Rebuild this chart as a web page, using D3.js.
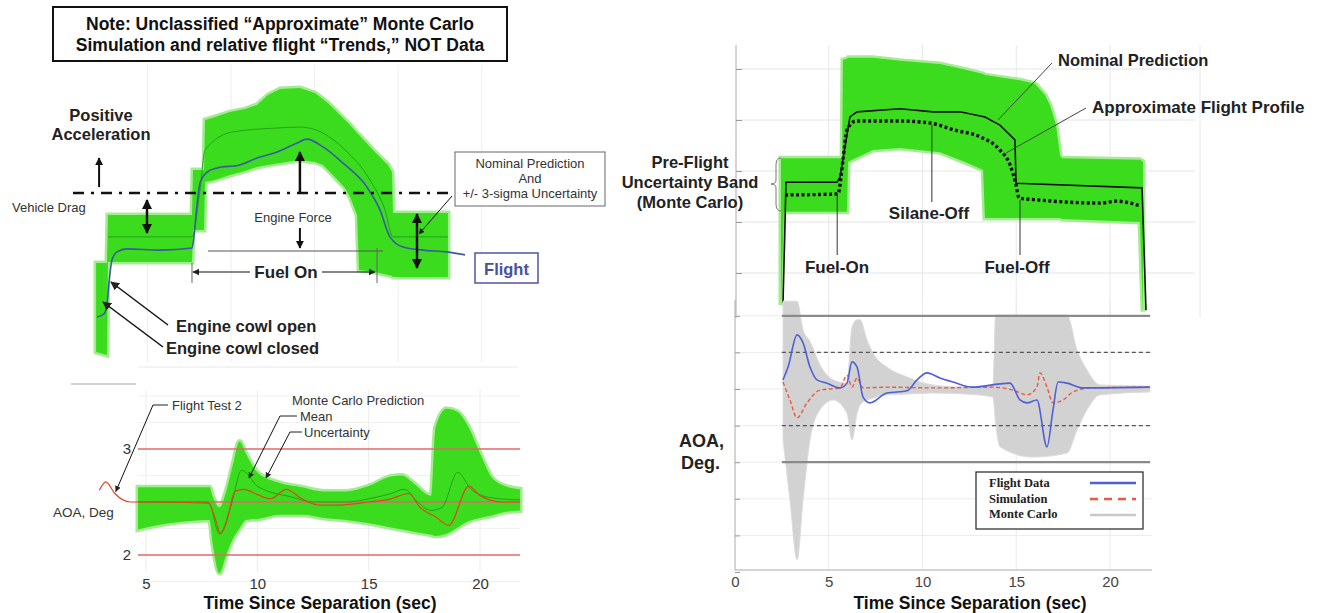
<!DOCTYPE html>
<html><head><meta charset="utf-8">
<script src="https://cdn.jsdelivr.net/npm/d3@7"></script>
<style>
body{margin:0;background:#fff}
svg{display:block}
text{font-family:"Liberation Sans",Arial,sans-serif}
</style></head>
<body><svg id="c" width="1322" height="613"></svg>
<script>
// ---------------- DATA ----------------
// Top-left: thrust/acceleration trend (relative units)
const tlTime  = [1.92,2.57,2.63,7.66,7.72,8.38,8.44,9.04,9.94,10.83,11.55,12.21,12.93,14.12,15.02,15.5,15.92,16.82,17.12,17.54,17.66,18.61,19.39,19.63,19.69,22.98];
const tlUpper = [3.40,3.40,5.0,5.0,6.5,6.5,8.17,8.27,8.43,8.53,8.67,9.0,9.2,9.23,9.07,8.87,8.67,8.17,8.0,7.73,7.67,7.1,6.67,6.43,5.07,5.07];
const tlLower = [0.43,0.33,3.43,3.43,4.5,4.5,6.1,6.17,6.33,6.47,6.6,6.67,6.73,6.83,6.77,6.67,6.43,5.9,5.6,5.0,3.17,3.1,3.0,2.97,2.93,2.93];
const tlFlightT = [1.98,2.39,2.57,2.69,2.87,3.17,3.77,5.75,7.66,7.78,7.96,8.14,8.56,9.16,10.53,11.55,12.75,13.95,14.54,15.5,16.7,18.13,18.91,19.51,20.29,21.49,22.92,24.0];
const tlFlightV = [1.6,1.7,2.0,2.73,3.5,3.77,3.87,3.83,3.9,4.3,5.33,6.07,6.43,6.57,6.67,6.9,7.1,7.4,7.53,7.27,6.73,5.93,5.17,4.27,3.93,3.83,3.77,3.67];
const tlMeanT = [2.63,7.66,8.14,8.44,10.11,12.75,14.12,15.5,16.82,18.31,19.21,19.69,22.98];
const tlMeanV = [4.27,4.27,5.83,7.17,7.77,7.9,7.93,7.73,7.17,6.17,5.17,4.27,4.27];
const tlDrag = 5.73;

// Bottom-left: AOA (deg) vs time since separation (s)
const blT     = [4.64,5.5,7.0,7.85,8.0,8.3,8.6,8.9,9.2,9.5,10,11,12,13,14,15,16,16.5,17,17.8,18.0,18.5,19,19.5,20,20.5,21,21.8];
const blUpper = [2.64,2.64,2.64,2.64,2.55,2.45,2.6,2.85,3.07,2.95,2.78,2.68,2.64,2.6,2.6,2.65,2.74,2.75,2.68,2.56,3.2,3.38,3.35,3.2,2.96,2.74,2.66,2.62];
const blLower = [2.24,2.28,2.32,2.33,2.1,1.83,2.0,2.15,2.25,2.33,2.34,2.38,2.38,2.35,2.33,2.3,2.26,2.24,2.22,2.19,2.18,2.2,2.26,2.32,2.35,2.37,2.4,2.42];
const blMeanT = [4.64,7.8,8.3,8.8,9.3,10,10.5,11.5,12.5,14,15,16,16.6,17.2,17.8,18.3,19,19.6,20.5,21.8];
const blMeanV = [2.5,2.5,2.2,2.45,2.8,2.65,2.6,2.55,2.5,2.5,2.53,2.58,2.62,2.5,2.42,2.45,2.78,2.62,2.54,2.52];
const blFlightT = [2.9,3.2,3.6,4.3,5,7.8,8.1,8.35,8.6,9.0,9.4,10,10.6,11.3,12,12.8,13.5,15,16,16.8,17.3,18,18.6,19.5,20,21,21.8];
const blFlightV = [2.61,2.69,2.58,2.5,2.5,2.49,2.35,2.2,2.3,2.6,2.62,2.57,2.53,2.62,2.53,2.47,2.47,2.5,2.53,2.58,2.45,2.36,2.28,2.65,2.56,2.5,2.5];
const blRefLines = [2, 2.5, 3];
const blTicksX = [5,10,15,20];
const blTicksY = [2,3];

// Top-right: pre-flight uncertainty band (relative units)
const rtT     = [2.45,2.61,5.71,5.76,5.97,6.03,7.36,8.8,10.93,12.37,13.23,13.33,15.2,16.0,16.53,16.8,17.12,17.33,17.44,21.6,21.76];
const rtUpper = [3.25,3.25,3.25,5.18,5.2,5.22,5.22,5.16,5.1,4.98,4.9,4.88,4.78,4.71,4.49,4.29,3.9,3.31,3.25,3.22,3.18];
const rtLower = [0.37,2.2,2.2,2.2,2.2,3.18,3.41,3.45,3.37,3.16,3.02,2.08,2.08,2.08,2.08,2.08,2.08,2.08,2.06,2.0,0.24];
const rtNomT = [2.56,2.72,5.44,5.6,6.13,6.51,8.8,10.56,12.0,13.33,14.13,14.93,14.99,21.71,21.92];
const rtNomV = [0.41,2.78,2.78,2.88,4.06,4.16,4.22,4.16,4.16,4.06,3.9,3.61,2.76,2.67,0.27];
const rtFlightT = [2.67,5.49,5.76,5.97,6.45,8.8,10.4,11.73,13.07,14.13,14.67,14.99,15.15,16.27,17.71,19.47,20.37,21.07,21.65];
const rtFlightV = [2.53,2.55,3.22,3.8,3.98,3.98,3.94,3.8,3.67,3.41,3.12,2.73,2.47,2.43,2.39,2.37,2.41,2.37,2.31];
const rtGridY = [1,2,3,4,5];

// Bottom-right: AOA flight data / simulation / Monte Carlo
const rbFlightT = [2.56,2.83,3.31,3.63,4.0,4.37,4.91,5.6,5.97,6.24,6.51,6.83,7.2,8.1,9.17,9.71,10.24,10.93,11.63,12.69,14.13,14.67,15.2,15.57,16.1,16.64,16.96,17.23,17.71,18.56,22.13];
const rbFlightV = [0.25,0.6,1.48,1.26,0.6,0.25,0.16,0.03,0.16,0.74,0.6,-0.22,-0.38,-0.11,-0.05,0.25,0.44,0.3,0.19,0.05,0.14,0.16,-0.3,-0.38,-0.3,-1.58,-0.57,0.19,0.16,0.03,0.05];
const rbSimT = [2.56,2.93,3.31,3.84,4.53,5.6,5.97,6.24,6.51,6.83,8.1,10.56,13.76,14.83,15.57,16.1,16.27,16.64,16.96,17.49,18.03,18.93,22.13];
const rbSimV = [0.19,-0.3,-0.79,-0.38,-0.03,0.03,0.38,0.05,0.3,0.03,0.05,0.03,0.05,-0.03,-0.16,0.05,0.44,0.05,-0.38,-0.3,-0.08,0.03,0.05];
const rbMcT = [2.56,2.93,3.31,3.63,4.0,4.53,5.23,5.97,6.24,6.51,6.67,7.04,7.36,8.1,9.17,10.56,12.37,13.76,13.9,14.13,15.89,17.71,18.24,18.77,19.47,22.13];
const rbMcUpper = [2.4,2.4,2.4,1.61,1.3,0.66,0.25,0.16,1.69,1.89,1.89,1.34,0.98,0.6,0.33,0.11,0.05,0.11,2.02,2.02,2.02,2.02,1.07,0.52,0.11,0.08];
const rbMcLower = [-1.39,-3.03,-4.67,-3.03,-1.39,-0.57,-0.3,-0.66,-1.39,-0.66,-0.44,-0.3,-0.25,-0.16,-0.14,-0.11,-0.14,-0.22,-0.93,-1.58,-1.86,-1.75,-1.12,-0.57,-0.16,-0.08];
const rbSolidLines = [2,-2];
const rbDashedLines = [1,-1];
const rbTicksX = [0,5,10,15,20];
const rbGridY = [-4,-3,-2,-1,0,1,2];
const legendItems = ["Flight Data","Simulation","Monte Carlo"];

// ---------------- SETUP ----------------
const svg = d3.select("#c");
const SANS='"Liberation Sans",Arial,sans-serif';
const zip = (a,b)=>a.map((v,i)=>[v,b[i]]);
const defs = svg.append("defs");
function marker(id,color,size){
  defs.append("marker").attr("id",id).attr("viewBox","0 0 10 10").attr("refX",9).attr("refY",5)
    .attr("markerWidth",size).attr("markerHeight",size).attr("orient","auto-start-reverse")
    .append("path").attr("d","M0,0 L10,5 L0,10 Z").attr("fill",color);
}
marker("ah","#111",4);
marker("ahs","#222",6);
const GREEN="#3bdc1e", GREEN_EDGE="#a6eb93", DARKG="#22a21a";

function arrow(g,x1,y1,x2,y2,w,both,mk){
  const l=g.append("line").attr("x1",x1).attr("y1",y1).attr("x2",x2).attr("y2",y2)
    .attr("stroke","#111").attr("stroke-width",w).attr("marker-end",`url(#${mk||"ah"})`);
  if(both) l.attr("marker-start",`url(#${mk||"ah"})`);
  return l;
}
function txt(g,x,y,s,size,weight,anchor,fill,family){
  return g.append("text").attr("x",x).attr("y",y).text(s).attr("font-size",size)
    .attr("font-weight",weight||"normal").attr("text-anchor",anchor||"start").attr("fill",fill||"#111")
    .style("font-family",family||null);
}
function band(g,data,x,y,curve){
  const a=d3.area().x(d=>x(d.t)).y0(d=>y(d.l)).y1(d=>y(d.u));
  if(curve) a.curve(curve);
  g.append("path").datum(data).attr("d",a).attr("fill","none").attr("stroke",GREEN_EDGE).attr("stroke-width",5);
  g.append("path").datum(data).attr("d",a).attr("fill",GREEN);
}

// ---------------- TOP-LEFT ----------------
const xTL = d3.scaleLinear().domain([0,24]).range([64,465]);
const yTL = d3.scaleLinear().domain([0,10]).range([365,65]);
const gTL = svg.append("g");
gTL.selectAll("line.vg").data([5,10,15,20,25]).join("line")
  .attr("x1",d=>xTL(d)).attr("x2",d=>xTL(d)).attr("y1",65).attr("y2",362)
  .attr("stroke","#eeeeee").attr("stroke-width",1);
gTL.append("line").attr("x1",138).attr("x2",518).attr("y1",367).attr("y2",367).attr("stroke","#e8e8e8");
svg.append("line").attr("x1",71).attr("x2",136).attr("y1",384).attr("y2",384).attr("stroke","#aaa").attr("stroke-width",1.2);

band(gTL, tlTime.map((t,i)=>({t,u:tlUpper[i],l:tlLower[i]})), xTL, yTL);
gTL.append("path").datum(zip(tlMeanT,tlMeanV))
  .attr("d",d3.line().x(d=>xTL(d[0])).y(d=>yTL(d[1])).curve(d3.curveMonotoneX))
  .attr("fill","none").attr("stroke",DARKG).attr("stroke-width",1);
gTL.append("path").datum(zip(tlFlightT,tlFlightV))
  .attr("d",d3.line().x(d=>xTL(d[0])).y(d=>yTL(d[1])).curve(d3.curveMonotoneX))
  .attr("fill","none").attr("stroke","#3d58a6").attr("stroke-width",1.6);

gTL.append("line").attr("x1",xTL(0.54)).attr("x2",xTL(23.1)).attr("y1",yTL(tlDrag)).attr("y2",yTL(tlDrag))
  .attr("stroke","#111").attr("stroke-width",2.5).attr("stroke-dasharray","11,7,3,7");

gTL.append("rect").attr("x",53).attr("y",7).attr("width",454).attr("height",54).attr("fill","#fff").attr("stroke","#111").attr("stroke-width",2);
txt(gTL,280,30,"Note: Unclassified “Approximate” Monte Carlo",17.5,"bold","middle");
txt(gTL,280,51,"Simulation and relative flight “Trends,” NOT Data",17.5,"bold","middle");
txt(gTL,101,121,"Positive",16.5,"bold","middle","#222");
txt(gTL,101,140,"Acceleration",16.5,"bold","middle","#222");
arrow(gTL,xTL(2.1),yTL(tlDrag)-6,xTL(2.1),158,2);
txt(gTL,12,212,"Vehicle Drag",13,"normal","start","#333");
arrow(gTL,147,200,147,233,2.5,true);
arrow(gTL,417,214,417,268,2.5,true);
arrow(gTL,xTL(14.12),yTL(tlDrag),xTL(14.12),152,2.5);
txt(gTL,293,222,"Engine Force",13,"normal","middle","#333");
arrow(gTL,xTL(14.12),228,xTL(14.12),248,2);
gTL.append("line").attr("x1",208).attr("x2",383).attr("y1",251).attr("y2",251).attr("stroke","#555").attr("stroke-width",1);
gTL.append("line").attr("x1",xTL(7.66)).attr("x2",xTL(7.66)).attr("y1",263).attr("y2",283).attr("stroke","#666");
gTL.append("line").attr("x1",377).attr("x2",377).attr("y1",248).attr("y2",283).attr("stroke","#666");
arrow(gTL,250,272,xTL(7.66)+1,272,1.2,false,"ahs");
arrow(gTL,322,272,375,272,1.2,false,"ahs");
txt(gTL,286,278,"Fuel On",17,"bold","middle","#222");
arrow(gTL,168,325,111,282,1.5,false,"ahs");
arrow(gTL,163,347,103,302,1.5,false,"ahs");
txt(gTL,176,332,"Engine cowl open",16.5,"bold","start","#222");
txt(gTL,166,354,"Engine cowl closed",16.5,"bold","start","#222");
gTL.append("rect").attr("x",455).attr("y",152).attr("width",150).attr("height",54).attr("fill","#fff").attr("stroke","#666").attr("stroke-width",1);
txt(gTL,530,168,"Nominal Prediction",13,"normal","middle","#333");
txt(gTL,530,183,"And",13,"normal","middle","#333");
txt(gTL,530,198,"+/- 3-sigma Uncertainty",13,"normal","middle","#333");
arrow(gTL,452,196,419,234,1,false,"ahs");
gTL.append("rect").attr("x",475).attr("y",253).attr("width",63).attr("height",30).attr("fill","#fff").attr("stroke","#5b5fa8").attr("stroke-width",1.6);
txt(gTL,506.5,275,"Flight",16.5,"bold","middle","#4a50a0");

// ---------------- BOTTOM-LEFT ----------------
const xBL = d3.scaleLinear().domain([5,20]).range([146,480]);
const yBL = d3.scaleLinear().domain([2,3]).range([555,449]);
const gBL = svg.append("g");
gBL.selectAll("line.vg").data(blTicksX).join("line")
  .attr("x1",d=>xBL(d)).attr("x2",d=>xBL(d)).attr("y1",390).attr("y2",572).attr("stroke","#ececec");
gBL.selectAll("line.hg").data([2.25,2.75,3.25,3.5,1.75]).join("line")
  .attr("x1",xBL(4.64)).attr("x2",xBL(21.8)).attr("y1",d=>yBL(d)).attr("y2",d=>yBL(d)).attr("stroke","#f0f0f0");
band(gBL, blT.map((t,i)=>({t,u:blUpper[i],l:blLower[i]})), xBL, yBL, d3.curveMonotoneX);
gBL.selectAll("line.ref").data(blRefLines).join("line")
  .attr("x1",xBL(4.64)).attr("x2",xBL(21.8)).attr("y1",d=>yBL(d)).attr("y2",d=>yBL(d))
  .attr("stroke","#e06868").attr("stroke-width",1.6);
gBL.append("path").datum(zip(blMeanT,blMeanV))
  .attr("d",d3.line().x(d=>xBL(d[0])).y(d=>yBL(d[1])).curve(d3.curveMonotoneX))
  .attr("fill","none").attr("stroke",DARKG).attr("stroke-width",1);
gBL.append("path").datum(zip(blFlightT,blFlightV))
  .attr("d",d3.line().x(d=>xBL(d[0])).y(d=>yBL(d[1])).curve(d3.curveMonotoneX))
  .attr("fill","none").attr("stroke","#e0441f").attr("stroke-width",1.2);
const axBL = gBL.append("g").attr("transform","translate(0,574)")
  .call(d3.axisBottom(xBL).tickValues(blTicksX).tickSize(0).tickPadding(4));
axBL.select(".domain").remove();
axBL.selectAll("text").attr("font-size",15).attr("fill","#333").style("font-family",SANS);
const ayBL = gBL.append("g").attr("transform","translate(131,0)")
  .call(d3.axisLeft(yBL).tickValues(blTicksY).tickFormat(d3.format("d")).tickSize(0).tickPadding(0));
ayBL.select(".domain").remove();
ayBL.selectAll("text").attr("font-size",15).attr("fill","#333").style("font-family",SANS);
txt(gBL,320,609,"Time Since Separation (sec)",17.5,"bold","middle","#111");
txt(gBL,53,517,"AOA, Deg",13.5,"normal","start","#333");
txt(gBL,172,410,"Flight Test 2",13,"normal","start","#333");
txt(gBL,292,405,"Monte Carlo Prediction",13,"normal","start","#333");
txt(gBL,300,421,"Mean",13,"normal","start","#333");
txt(gBL,304,437,"Uncertainty",13,"normal","start","#333");
gBL.append("polyline").attr("points","168,405 153,405").attr("stroke","#222").attr("fill","none");
arrow(gBL,153,405,xBL(3.6)+1,yBL(2.58)-2,1,false,"ahs");
gBL.append("polyline").attr("points","297,416 280,416").attr("stroke","#222").attr("fill","none");
arrow(gBL,280,416,249,478,1,false,"ahs");
gBL.append("polyline").attr("points","302,432 290,432").attr("stroke","#222").attr("fill","none");
arrow(gBL,290,432,266,478,1,false,"ahs");

// ---------------- TOP-RIGHT ----------------
const xR = d3.scaleLinear().domain([0,20]).range([735,1110]);
const yRT = d3.scaleLinear().domain([0,5]).range([324,69]);
const gRT = svg.append("g");
gRT.selectAll("line.hg").data(rtGridY).join("line")
  .attr("x1",736).attr("x2",1195).attr("y1",d=>yRT(d)).attr("y2",d=>yRT(d)).attr("stroke","#e4e4e4");
gRT.selectAll("line.vg").data([5,10,15,20,24.8]).join("line")
  .attr("x1",d=>xR(d)).attr("x2",d=>xR(d)).attr("y1",45).attr("y2",318).attr("stroke","#e8e8e8");
gRT.append("g").attr("transform","translate(736,0)")
  .call(d3.axisLeft(yRT).tickValues(rtGridY).tickFormat("").tickSizeInner(-6).tickSizeOuter(0))
  .call(g=>g.select(".domain").attr("d","M0,45V318").attr("stroke","#aaa"))
  .call(g=>g.selectAll(".tick line").attr("stroke","#999"));
band(gRT, rtT.map((t,i)=>({t,u:rtUpper[i],l:rtLower[i]})), xR, yRT);
gRT.append("path").datum(zip(rtNomT,rtNomV))
  .attr("d",d3.line().x(d=>xR(d[0])).y(d=>yRT(d[1])))
  .attr("fill","none").attr("stroke","#111").attr("stroke-width",1.6);
gRT.append("path").datum(zip(rtFlightT,rtFlightV))
  .attr("d",d3.line().x(d=>xR(d[0])).y(d=>yRT(d[1])).curve(d3.curveMonotoneX))
  .attr("fill","none").attr("stroke","#111").attr("stroke-width",3.4).attr("stroke-dasharray","3,2.5");
txt(gRT,1058,66,"Nominal Prediction",16.5,"bold","start","#222");
gRT.append("line").attr("x1",1052).attr("y1",63).attr("x2",998).attr("y2",120).attr("stroke","#444");
txt(gRT,1092,113,"Approximate Flight Profile",17,"bold","start","#222");
gRT.append("line").attr("x1",1086).attr("y1",108).attr("x2",1006).attr("y2",153).attr("stroke","#444");
txt(gRT,929,219,"Silane-Off",17,"bold","middle","#222");
gRT.append("line").attr("x1",xR(10.5)).attr("x2",xR(10.5)).attr("y1",125).attr("y2",202).attr("stroke","#333");
txt(gRT,837,273,"Fuel-On",17,"bold","middle","#222");
gRT.append("line").attr("x1",xR(5.45)).attr("x2",xR(5.45)).attr("y1",194).attr("y2",255).attr("stroke","#333");
txt(gRT,1017,273,"Fuel-Off",17,"bold","middle","#222");
gRT.append("line").attr("x1",xR(15.2)).attr("x2",xR(15.2)).attr("y1",200).attr("y2",255).attr("stroke","#333");
txt(gRT,690,168,"Pre-Flight",16.5,"bold","middle","#222");
txt(gRT,690,188,"Uncertainty Band",16.5,"bold","middle","#222");
txt(gRT,690,208,"(Monte Carlo)",16.5,"bold","middle","#222");
gRT.append("path").attr("d","M781,158 Q776,158 776,165 L776,180 Q776,184 771,184 Q776,184 776,188 L776,204 Q776,211 781,211")
  .attr("fill","none").attr("stroke","#777").attr("stroke-width",1);

// ---------------- BOTTOM-RIGHT ----------------
const yRB = d3.scaleLinear().domain([-5,2.5]).range([572,297.5]);
const gRB = svg.append("g");
gRB.selectAll("line.hg").data(rbGridY).join("line")
  .attr("x1",735).attr("x2",1152).attr("y1",d=>yRB(d)).attr("y2",d=>yRB(d)).attr("stroke","#ebebeb");
gRB.selectAll("line.vg").data(rbTicksX.slice(1)).join("line")
  .attr("x1",d=>xR(d)).attr("x2",d=>xR(d)).attr("y1",300).attr("y2",570).attr("stroke","#ebebeb");
const rbEnv = rbMcT.map((t,i)=>({t,u:rbMcUpper[i],l:rbMcLower[i]}));
gRB.append("path").datum(rbEnv)
  .attr("d",d3.area().x(d=>xR(d.t)).y0(d=>yRB(d.l)).y1(d=>yRB(d.u)).curve(d3.curveMonotoneX))
  .attr("fill","#d2d2d2").attr("stroke","#dcdcdc").attr("stroke-width",1);
gRB.selectAll("line.sol").data(rbSolidLines).join("line")
  .attr("x1",xR(2.5)).attr("x2",1150).attr("y1",d=>yRB(d)).attr("y2",d=>yRB(d))
  .attr("stroke","#8a8a8a").attr("stroke-width",2.2);
gRB.selectAll("line.dsh").data(rbDashedLines).join("line")
  .attr("x1",xR(2.5)).attr("x2",1150).attr("y1",d=>yRB(d)).attr("y2",d=>yRB(d))
  .attr("stroke","#555").attr("stroke-width",1.3).attr("stroke-dasharray","4,3");
gRB.append("path").datum(zip(rbSimT,rbSimV))
  .attr("d",d3.line().x(d=>xR(d[0])).y(d=>yRB(d[1])).curve(d3.curveMonotoneX))
  .attr("fill","none").attr("stroke","#ec5a3a").attr("stroke-width",1.4).attr("stroke-dasharray","4,2.5");
gRB.append("path").datum(zip(rbFlightT,rbFlightV))
  .attr("d",d3.line().x(d=>xR(d[0])).y(d=>yRB(d[1])).curve(d3.curveMonotoneX))
  .attr("fill","none").attr("stroke","#4e60d6").attr("stroke-width",1.6);
gRB.append("g").attr("transform","translate(735,0)")
  .call(d3.axisLeft(yRB).tickValues(rbGridY.concat([-5])).tickFormat("").tickSizeInner(-5).tickSizeOuter(0))
  .call(g=>g.select(".domain").attr("d","M0,300V570").attr("stroke","#aaa"))
  .call(g=>g.selectAll(".tick line").attr("stroke","#999"));
const axRB = gRB.append("g").attr("transform","translate(0,570)")
  .call(d3.axisBottom(xR).tickValues(rbTicksX).tickSize(0).tickPadding(6));
axRB.select(".domain").attr("d","M735,0H1152").attr("stroke","#aaa");
axRB.selectAll("text").attr("font-size",15).attr("fill","#444").style("font-family",SANS);
txt(gRB,970,609,"Time Since Separation (sec)",17.5,"bold","middle","#111");
txt(gRB,679,447,"AOA,",18,"bold","start","#222");
txt(gRB,681,469,"Deg.",18,"bold","start","#222");
const lg = gRB.append("g");
lg.append("rect").attr("x",976).attr("y",472).attr("width",167).attr("height",57).attr("fill","#fff").attr("stroke","#222").attr("stroke-width",1.2);
const lgStyles=[{c:"#4e60d6",d:null,w:2.4},{c:"#ec5a3a",d:"8,6",w:2.4},{c:"#c8c8c8",d:null,w:2.4}];
lg.selectAll("text.li").data(legendItems).join("text")
  .attr("x",989).attr("y",(d,i)=>487+i*15.5).text(d=>d)
  .attr("font-size",12.5).attr("font-weight","bold").attr("fill","#222")
  .style("font-family",'"Liberation Serif","Times New Roman",serif');
lg.selectAll("line.li").data(legendItems).join("line")
  .attr("x1",1090).attr("x2",1136).attr("y1",(d,i)=>483+i*16).attr("y2",(d,i)=>483+i*16)
  .attr("stroke",(d,i)=>lgStyles[i].c).attr("stroke-width",(d,i)=>lgStyles[i].w)
  .attr("stroke-dasharray",(d,i)=>lgStyles[i].d);
</script></body></html>
